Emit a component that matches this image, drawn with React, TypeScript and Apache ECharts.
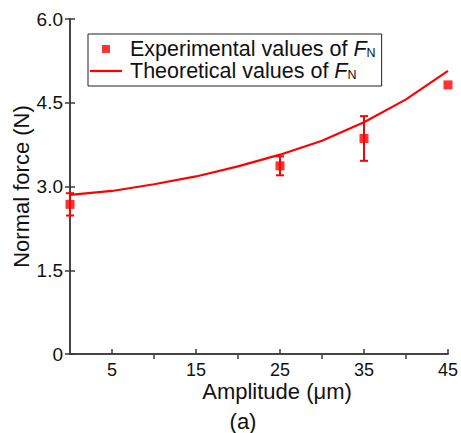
import { useEffect, useRef } from 'react';
import * as echarts from 'echarts';

const amplitudes = [0, 25, 35, 45];
const experimental = [2.68, 3.37, 3.86, 4.82];
const errors = [0.2, 0.17, 0.4, 0];
const theoryAmplitudes = [0, 5, 10, 15, 20, 25, 30, 35, 40, 45];
const theoretical = [2.85, 2.92, 3.04, 3.18, 3.36, 3.57, 3.82, 4.15, 4.56, 5.07];
const xTickValues = [5, 15, 25, 35, 45];
const topTickValues = [10, 20, 30, 40];

const FONT = "'Liberation Sans', Arial, sans-serif";
const RED = '#ff0000';
const AXIS = '#3a3a3a';
const TEXT = '#111111';

export default function App() {
  const ref = useRef<HTMLDivElement>(null);
  useEffect(() => {
    if (!ref.current) return;
    const chart = echarts.init(ref.current, undefined, { renderer: 'svg' });
    const axisLine = { show: true, lineStyle: { color: AXIS, width: 1.5 } };
    const tick = { show: true, inside: true, length: 5, lineStyle: { color: AXIS, width: 1.5 } };
    const richText = {
      i: { fontStyle: 'italic', fontSize: 21.5, fontFamily: FONT, color: TEXT, lineHeight: 21 },
      s: { fontSize: 12.5, fontFamily: FONT, color: TEXT, lineHeight: 9, verticalAlign: 'bottom' },
    };
    chart.setOption({
      animation: false,
      grid: { left: 70, top: 19, right: 13, bottom: 79, containLabel: false, outerBoundsMode: 'none' },
      legend: {
        left: 88,
        top: 34,
        orient: 'vertical',
        borderColor: '#222',
        borderWidth: 1,
        borderRadius: 0,
        padding: [4, 6, 4, 2],
        itemGap: 0,
        itemWidth: 32,
        itemHeight: 8,
        symbolKeepAspect: true,
        data: [
          { name: 'Experimental', icon: 'path://M0 0H10V10H0Z' },
          { name: 'Theoretical', icon: 'path://M0 0H32V2.2H0Z' },
        ],
        formatter: (name: string) =>
          name === 'Experimental'
            ? 'Experimental values of {i|F}{s|N}'
            : 'Theoretical values of {i|F}{s|N}',
        textStyle: {
          fontSize: 21.5,
          fontFamily: FONT,
          color: TEXT,
          lineHeight: 21,
          padding: [0, 0, 0, 3],
          rich: richText,
        },
      },
      xAxis: [
        {
          type: 'value',
          min: 0,
          max: 45,
          position: 'bottom',
          name: 'Amplitude (μm)',
          nameLocation: 'middle',
          nameGap: 26,
          nameMoveOverlap: false,
          nameTextStyle: { fontSize: 22, fontFamily: FONT, color: TEXT, padding: [0, 0, 0, 36] },
          axisLine,
          axisTick: { ...tick, customValues: xTickValues },
          axisLabel: { fontSize: 18, fontFamily: FONT, color: TEXT, margin: 7, customValues: xTickValues },
          splitLine: { show: false },
        },
        {
          type: 'value',
          min: 0,
          max: 45,
          position: 'top',
          axisLine,
          axisTick: { ...tick, customValues: topTickValues },
          axisLabel: { show: false },
          splitLine: { show: false },
        },
      ],
      yAxis: [
        {
          type: 'value',
          min: 0,
          max: 6,
          interval: 1.5,
          position: 'left',
          name: 'Normal force (N)',
          nameLocation: 'middle',
          nameGap: 38,
          nameMoveOverlap: false,
          nameTextStyle: { fontSize: 22, fontFamily: FONT, color: TEXT },
          axisLine,
          axisTick: tick,
          axisLabel: {
            fontSize: 19,
            fontFamily: FONT,
            color: TEXT,
            margin: 7,
            formatter: (v: number) => (v === 0 ? '0' : v.toFixed(1)),
          },
          splitLine: { show: false },
        },
        {
          type: 'value',
          min: 0,
          max: 6,
          interval: 1.5,
          position: 'right',
          axisLine,
          axisTick: tick,
          axisLabel: { show: false },
          splitLine: { show: false },
        },
      ],
      series: [
        {
          name: 'Theoretical',
          type: 'line',
          data: theoryAmplitudes.map((x, i) => [x, theoretical[i]]),
          showSymbol: false,
          symbol: 'none',
          lineStyle: { color: RED, width: 2.2 },
          itemStyle: { color: RED },
          z: 2,
        },
        {
          name: 'ErrorBars',
          type: 'custom',
          data: amplitudes.map((x, i) => [x, experimental[i] - errors[i], experimental[i] + errors[i]]),
          renderItem: (params: any, api: any) => {
            const x = api.value(0);
            const lo = api.coord([x, api.value(1)]);
            const hi = api.coord([x, api.value(2)]);
            if (Math.abs(hi[1] - lo[1]) < 1) return { type: 'group', children: [] };
            const half = 4;
            const style = { stroke: RED, lineWidth: 2 };
            return {
              type: 'group',
              children: [
                { type: 'line', shape: { x1: lo[0], y1: lo[1], x2: hi[0], y2: hi[1] }, style },
                { type: 'line', shape: { x1: lo[0] - half, y1: lo[1], x2: lo[0] + half, y2: lo[1] }, style },
                { type: 'line', shape: { x1: hi[0] - half, y1: hi[1], x2: hi[0] + half, y2: hi[1] }, style },
              ],
            };
          },
          encode: { x: 0, y: [1, 2] },
          clip: false,
          z: 3,
        },
        {
          name: 'Experimental',
          type: 'scatter',
          data: amplitudes.map((x, i) => [x, experimental[i]]),
          symbol: 'rect',
          symbolSize: 9,
          itemStyle: { color: RED },
          clip: false,
          z: 4,
        },
      ],
      graphic: [
        {
          type: 'text',
          x: 243,
          y: 421,
          style: {
            text: '(a)',
            fontSize: 22,
            fontFamily: FONT,
            fill: TEXT,
            textAlign: 'center',
            textVerticalAlign: 'middle',
          },
        },
      ],
    });
    return () => chart.dispose();
  }, []);
  return (
    <div
      ref={ref}
      style={{ position: 'fixed', left: 0, top: 0, width: 461, height: 433, background: '#fff' }}
    />
  );
}
